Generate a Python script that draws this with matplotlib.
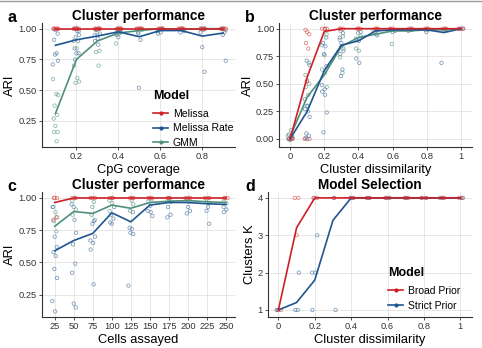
import matplotlib
matplotlib.use("Agg")
import matplotlib.pyplot as plt
from matplotlib.lines import Line2D

plt.rcParams['font.family'] = ['Liberation Sans', 'DejaVu Sans']

# ---------------- data ----------------
# Panel a: CpG coverage
a_x = [0.1, 0.2, 0.3, 0.4, 0.5, 0.6, 0.7, 0.8, 0.9]
a_melissa = [1.0, 1.0, 1.0, 1.0, 1.0, 1.0, 1.0, 1.0, 1.0]
a_rate = [0.865, 0.91, 0.94, 0.975, 0.935, 0.985, 0.985, 0.94, 0.965]
a_gmm = [0.31, 0.75, 0.90, 0.965, 0.985, 1.0, 0.995, 1.0, 1.0]
a_pts_melissa = [[1.0, 1.0, 1.0, 1.0, 1.0, 1.0]] * 9
a_pts_rate = [[1.0, 0.99, 0.96, 0.91, 0.80, 0.79, 0.74, 0.71],
              [1.0, 1.0, 0.98, 0.95, 0.93, 0.90, 0.84, 0.80, 0.80, 0.75],
              [1.0, 0.99, 0.96, 0.95, 0.92, 0.90, 0.87],
              [1.0, 0.99, 0.97, 0.95, 0.93],
              [1.0, 0.97, 0.91, 0.52],
              [1.0, 0.98, 0.97, 0.96],
              [1.0, 0.98, 0.97],
              [1.0, 0.97, 0.85, 0.65],
              [1.0, 0.97, 0.95, 0.74]]
a_pts_gmm = [[0.59, 0.47, 0.46, 0.375, 0.30, 0.27, 0.21, 0.16, 0.16, 0.085],
             [1.0, 0.98, 0.90, 0.84, 0.70, 0.60, 0.57, 0.56],
             [1.0, 0.99, 0.95, 0.82, 0.81, 0.70],
             [1.0, 0.99, 0.96, 0.96, 0.88],
             [1.0, 0.99, 0.96],
             [1.0, 0.99],
             [1.0, 0.99],
             [1.0, 0.99],
             [1.0, 0.99]]

# Panel b: cluster dissimilarity
b_x = [0.0, 0.1, 0.2, 0.3, 0.4, 0.5, 0.6, 0.7, 0.8, 0.9, 1.0]
b_melissa = [0.0, 0.56, 0.975, 1.0, 1.0, 1.0, 1.0, 1.0, 1.0, 1.0, 1.0]
b_rate = [0.0, 0.25, 0.62, 0.85, 0.89, 0.98, 0.99, 0.99, 0.99, 0.965, 1.0]
b_gmm = [0.02, 0.38, 0.58, 0.84, 0.92, 0.95, 0.98, 0.98, 0.99, 0.99, 1.0]
b_pts_melissa = [[0.0, 0.0, 0.0],
                 [0.99, 0.97, 0.95, 0.87, 0.82, 0.52, 0.0, 0.0],
                 [1.0, 1.0, 1.0, 1.0], [1.0, 1.0, 1.0], [1.0, 1.0, 1.0],
                 [1.0, 1.0, 1.0], [1.0, 1.0, 1.0], [1.0, 1.0, 1.0],
                 [1.0, 1.0, 1.0], [1.0, 1.0, 1.0], [1.0, 1.0, 1.0]]
b_pts_rate = [[0.0, -0.01, 0.02, 0.04, 0.0],
              [0.71, 0.67, 0.36, 0.30, 0.27, 0.25, 0.20, 0.05, 0.03, 0.01, 0.0],
              [0.92, 0.87, 0.84, 0.77, 0.66, 0.49, 0.45, 0.43, 0.40, 0.24, 0.06],
              [0.96, 0.92, 0.87, 0.80, 0.77, 0.63, 0.57],
              [0.97, 0.91, 0.89, 0.73, 0.69],
              [0.99, 0.97, 0.94],
              [0.99, 0.97],
              [0.99, 0.98],
              [0.99, 0.97],
              [0.99, 0.69],
              [1.0, 1.0]]
b_pts_gmm = [[0.03, 0.08, 0.01, 0.0],
             [0.69, 0.58, 0.53, 0.50, 0.47, 0.40, 0.30],
             [0.95, 0.85, 0.76, 0.63, 0.60, 0.47],
             [0.98, 0.93, 0.90, 0.84, 0.82, 0.74, 0.60],
             [0.96, 0.93, 0.82, 0.80],
             [0.99, 0.95],
             [0.98, 0.86],
             [0.99],
             [0.99],
             [0.99],
             [1.0]]

# Panel c: cells assayed
c_x = [25, 50, 75, 100, 125, 150, 175, 200, 225, 250]
c_melissa = [0.965, 1.0, 1.0, 1.0, 1.0, 1.0, 1.0, 1.0, 1.0, 1.0]
c_rate = [0.59, 0.67, 0.725, 0.885, 0.815, 0.945, 0.965, 0.965, 0.955, 0.95]
c_gmm = [0.78, 0.895, 0.88, 0.945, 0.92, 0.965, 0.975, 0.98, 0.97, 0.965]
c_pts_melissa = [[1.0, 1.0, 0.85, 0.83, 1.0]] + [[1.0, 1.0, 1.0]] * 9
c_pts_rate = [[0.93, 0.70, 0.62, 0.58, 0.55, 0.45, 0.38, 0.20, 0.12],
              [0.95, 0.83, 0.73, 0.64, 0.49, 0.42, 0.18, 0.15],
              [0.87, 0.82, 0.80, 0.70, 0.67, 0.65, 0.60, 0.33],
              [0.93, 0.87, 0.84, 0.81, 0.80],
              [0.89, 0.77, 0.76, 0.73, 0.72, 0.32],
              [0.94, 0.90, 0.89, 0.86],
              [0.93, 0.87, 0.85],
              [0.93, 0.90, 0.88],
              [0.93, 0.90, 0.80],
              [0.93, 0.91, 0.89]]
c_pts_gmm = [[0.93, 0.89, 0.85, 0.82, 0.74],
             [0.98, 0.93, 0.91, 0.87],
             [0.97, 0.93, 0.83],
             [0.98, 0.96, 0.90],
             [0.98, 0.95, 0.90],
             [0.99, 0.97],
             [0.99, 0.97],
             [0.99, 0.97],
             [0.99, 0.96],
             [0.99, 0.96]]

# Panel d: model selection
d_x = [0.0, 0.1, 0.2, 0.3, 0.4, 0.5, 0.6, 0.7, 0.8, 0.9, 1.0]
d_broad = [1.0, 3.2, 4.0, 4.0, 4.0, 4.0, 4.0, 4.0, 4.0, 4.0, 4.0]
d_strict = [1.0, 1.2, 1.8, 3.4, 4.0, 4.0, 4.0, 4.0, 4.0, 4.0, 4.0]
d_pts_broad = [[1, 1], [4, 4, 3], [4, 4], [4], [4, 4], [4, 4], [4, 4],
               [4, 4], [4, 4], [4, 4], [4, 4]]
d_pts_strict = [[1, 1], [2, 1, 1], [4, 3, 2, 2, 1], [4, 1], [4, 4], [4, 4],
                [4, 4], [4, 4], [4, 4], [4, 4], [4, 4]]

# ---------------- style ----------------
RED = '#cf1f26'
BLUE = '#1f5590'
TEAL = '#4f8f7b'
PT_RED = '#d9534f'
PT_BLUE = '#4d76a3'
PT_TEAL = '#5f9c8c'
GRID = '#e3e3e3'
TXT = '#333333'
JIT = [-0.8, 0.3, 0.9, -0.3, 0.6, -0.6, 0.0, 0.75, -0.45, 0.4, -0.15, 0.85, -0.9, 0.15]

W, H = 482, 348
fig = plt.figure(figsize=(W / 100, H / 100), dpi=100)
fig.patch.set_facecolor('white')


def add_ax(l, r, t, b):
    return fig.add_axes([l / W, 1 - b / H, (r - l) / W, (b - t) / H])


def style(ax, title, xlabel, ylabel, letter, letter_x):
    for s in ['top', 'right']:
        ax.spines[s].set_visible(False)
    for s in ['left', 'bottom']:
        ax.spines[s].set_color('#333333')
        ax.spines[s].set_linewidth(0.8)
    ax.grid(True, color=GRID, linewidth=0.6)
    ax.set_axisbelow(True)
    ax.tick_params(length=2.2, width=0.6, color='#333333', labelsize=6.7,
                   labelcolor=TXT, pad=1.5)
    ax.set_title(title, fontsize=9.8, fontweight='bold', pad=2.5, color='black')
    ax.set_xlabel(xlabel, fontsize=9.3, labelpad=2, color='black')
    ax.set_ylabel(ylabel, fontsize=9.3, labelpad=1.5, color='black')
    ax.text(letter_x, 1.05, letter, transform=ax.transAxes,
            fontsize=11.5, fontweight='bold', ha='left', va='center')


def scatter_pts(ax, xs, pts, color, jw, k0=0):
    px, py = [], []
    k = k0
    for x, vals in zip(xs, pts):
        for v in vals:
            px.append(x + JIT[k % len(JIT)] * jw)
            py.append(v)
            k += 1
    ax.scatter(px, py, s=6, facecolors='none', edgecolors=color,
               linewidths=0.55, alpha=0.75, zorder=2)


def leg(ax, labels, colors, x, y):
    handles = [Line2D([0], [0], color=c, lw=1.2, marker='o', markersize=2)
               for c in colors]
    lg = ax.legend(handles, labels, title='Model', loc='upper left',
                   bbox_to_anchor=(x, y), frameon=False, borderpad=0,
                   handlelength=1.4, handletextpad=0.45, labelspacing=0.45,
                   fontsize=7.5, alignment='left',
                   title_fontproperties={'weight': 'bold', 'size': 9})
    lg._legend_box.sep = 5


# Panel a
ax = add_ax(42, 235, 23.3, 146.7)
scatter_pts(ax, a_x, a_pts_gmm, PT_TEAL, 0.014, 0)
scatter_pts(ax, a_x, a_pts_rate, PT_BLUE, 0.014, 5)
scatter_pts(ax, a_x, a_pts_melissa, PT_RED, 0.014, 2)
ax.plot(a_x, a_gmm, color=TEAL, lw=1.2, zorder=3)
ax.plot(a_x, a_rate, color=BLUE, lw=1.2, zorder=3)
ax.plot(a_x, a_melissa, color=RED, lw=1.2, zorder=4)
ax.set_xlim(0.036, 0.956)
ax.set_ylim(0.041, 1.044)
ax.set_xticks([0.2, 0.4, 0.6, 0.8])
ax.set_xticklabels(['0.2', '0.4', '0.6', '0.8'])
ax.set_yticks([0.25, 0.5, 0.75, 1.0])
ax.set_yticklabels(['0.25', '0.50', '0.75', '1.00'])
style(ax, 'Cluster performance', 'CpG coverage', 'ARI', 'a', -0.18)
leg(ax, ['Melissa', 'Melissa Rate', 'GMM'], [RED, BLUE, TEAL], 0.55, 0.505)

# Panel b
ax = add_ax(279.3, 472, 23.3, 146.7)
scatter_pts(ax, b_x, b_pts_gmm, PT_TEAL, 0.016, 0)
scatter_pts(ax, b_x, b_pts_rate, PT_BLUE, 0.016, 5)
scatter_pts(ax, b_x, b_pts_melissa, PT_RED, 0.016, 2)
ax.plot(b_x, b_gmm, color=TEAL, lw=1.2, zorder=3)
ax.plot(b_x, b_rate, color=BLUE, lw=1.2, zorder=3)
ax.plot(b_x, b_melissa, color=RED, lw=1.2, zorder=4)
ax.set_xlim(-0.063, 1.064)
ax.set_ylim(-0.07, 1.049)
ax.set_xticks([0, 0.2, 0.4, 0.6, 0.8, 1.0])
ax.set_xticklabels(['0', '0.2', '0.4', '0.6', '0.8', '1'])
ax.set_yticks([0, 0.25, 0.5, 0.75, 1.0])
ax.set_yticklabels(['0.00', '0.25', '0.50', '0.75', '1.00'])
style(ax, 'Cluster performance', 'Cluster dissimilarity', 'ARI', 'b', -0.178)

# Panel c
ax = add_ax(42, 235, 192.3, 316.7)
scatter_pts(ax, c_x, c_pts_gmm, PT_TEAL, 3.5, 0)
scatter_pts(ax, c_x, c_pts_rate, PT_BLUE, 3.5, 5)
scatter_pts(ax, c_x, c_pts_melissa, PT_RED, 3.5, 2)
ax.plot(c_x, c_gmm, color=TEAL, lw=1.2, zorder=3)
ax.plot(c_x, c_rate, color=BLUE, lw=1.2, zorder=3)
ax.plot(c_x, c_melissa, color=RED, lw=1.2, zorder=4)
ax.set_xlim(8.3, 261.8)
ax.set_ylim(0.079, 1.044)
ax.set_xticks(c_x)
ax.set_xticklabels([str(v) for v in c_x])
ax.set_yticks([0.25, 0.5, 0.75, 1.0])
ax.set_yticklabels(['0.25', '0.50', '0.75', '1.00'])
style(ax, 'Cluster performance', 'Cells assayed', 'ARI', 'c', -0.18)

# Panel d
ax = add_ax(268, 472, 192.3, 316.7)
scatter_pts(ax, d_x, d_pts_strict, PT_BLUE, 0.016, 5)
scatter_pts(ax, d_x, d_pts_broad, PT_RED, 0.016, 2)
ax.plot(d_x, d_strict, color=BLUE, lw=1.2, zorder=3)
ax.plot(d_x, d_broad, color=RED, lw=1.2, zorder=3)
ax.set_xlim(-0.057, 1.064)
ax.set_ylim(0.82, 4.15)
ax.set_xticks([0, 0.2, 0.4, 0.6, 0.8, 1.0])
ax.set_xticklabels(['0', '0.2', '0.4', '0.6', '0.8', '1'])
ax.set_yticks([1, 2, 3, 4])
ax.set_yticklabels(['1', '2', '3', '4'])
style(ax, 'Model Selection', 'Cluster dissimilarity', 'Clusters K', 'd', -0.113)
leg(ax, ['Broad Prior', 'Strict Prior'], [RED, BLUE], 0.565, 0.44)

# thin frame line at top of the figure
fig.add_artist(Line2D([0, 1], [1 - 0.5 / H, 1 - 0.5 / H], color='#9a9a9a',
                      lw=1.0, transform=fig.transFigure))

fig.savefig('out.png', dpi=100, facecolor='white')
